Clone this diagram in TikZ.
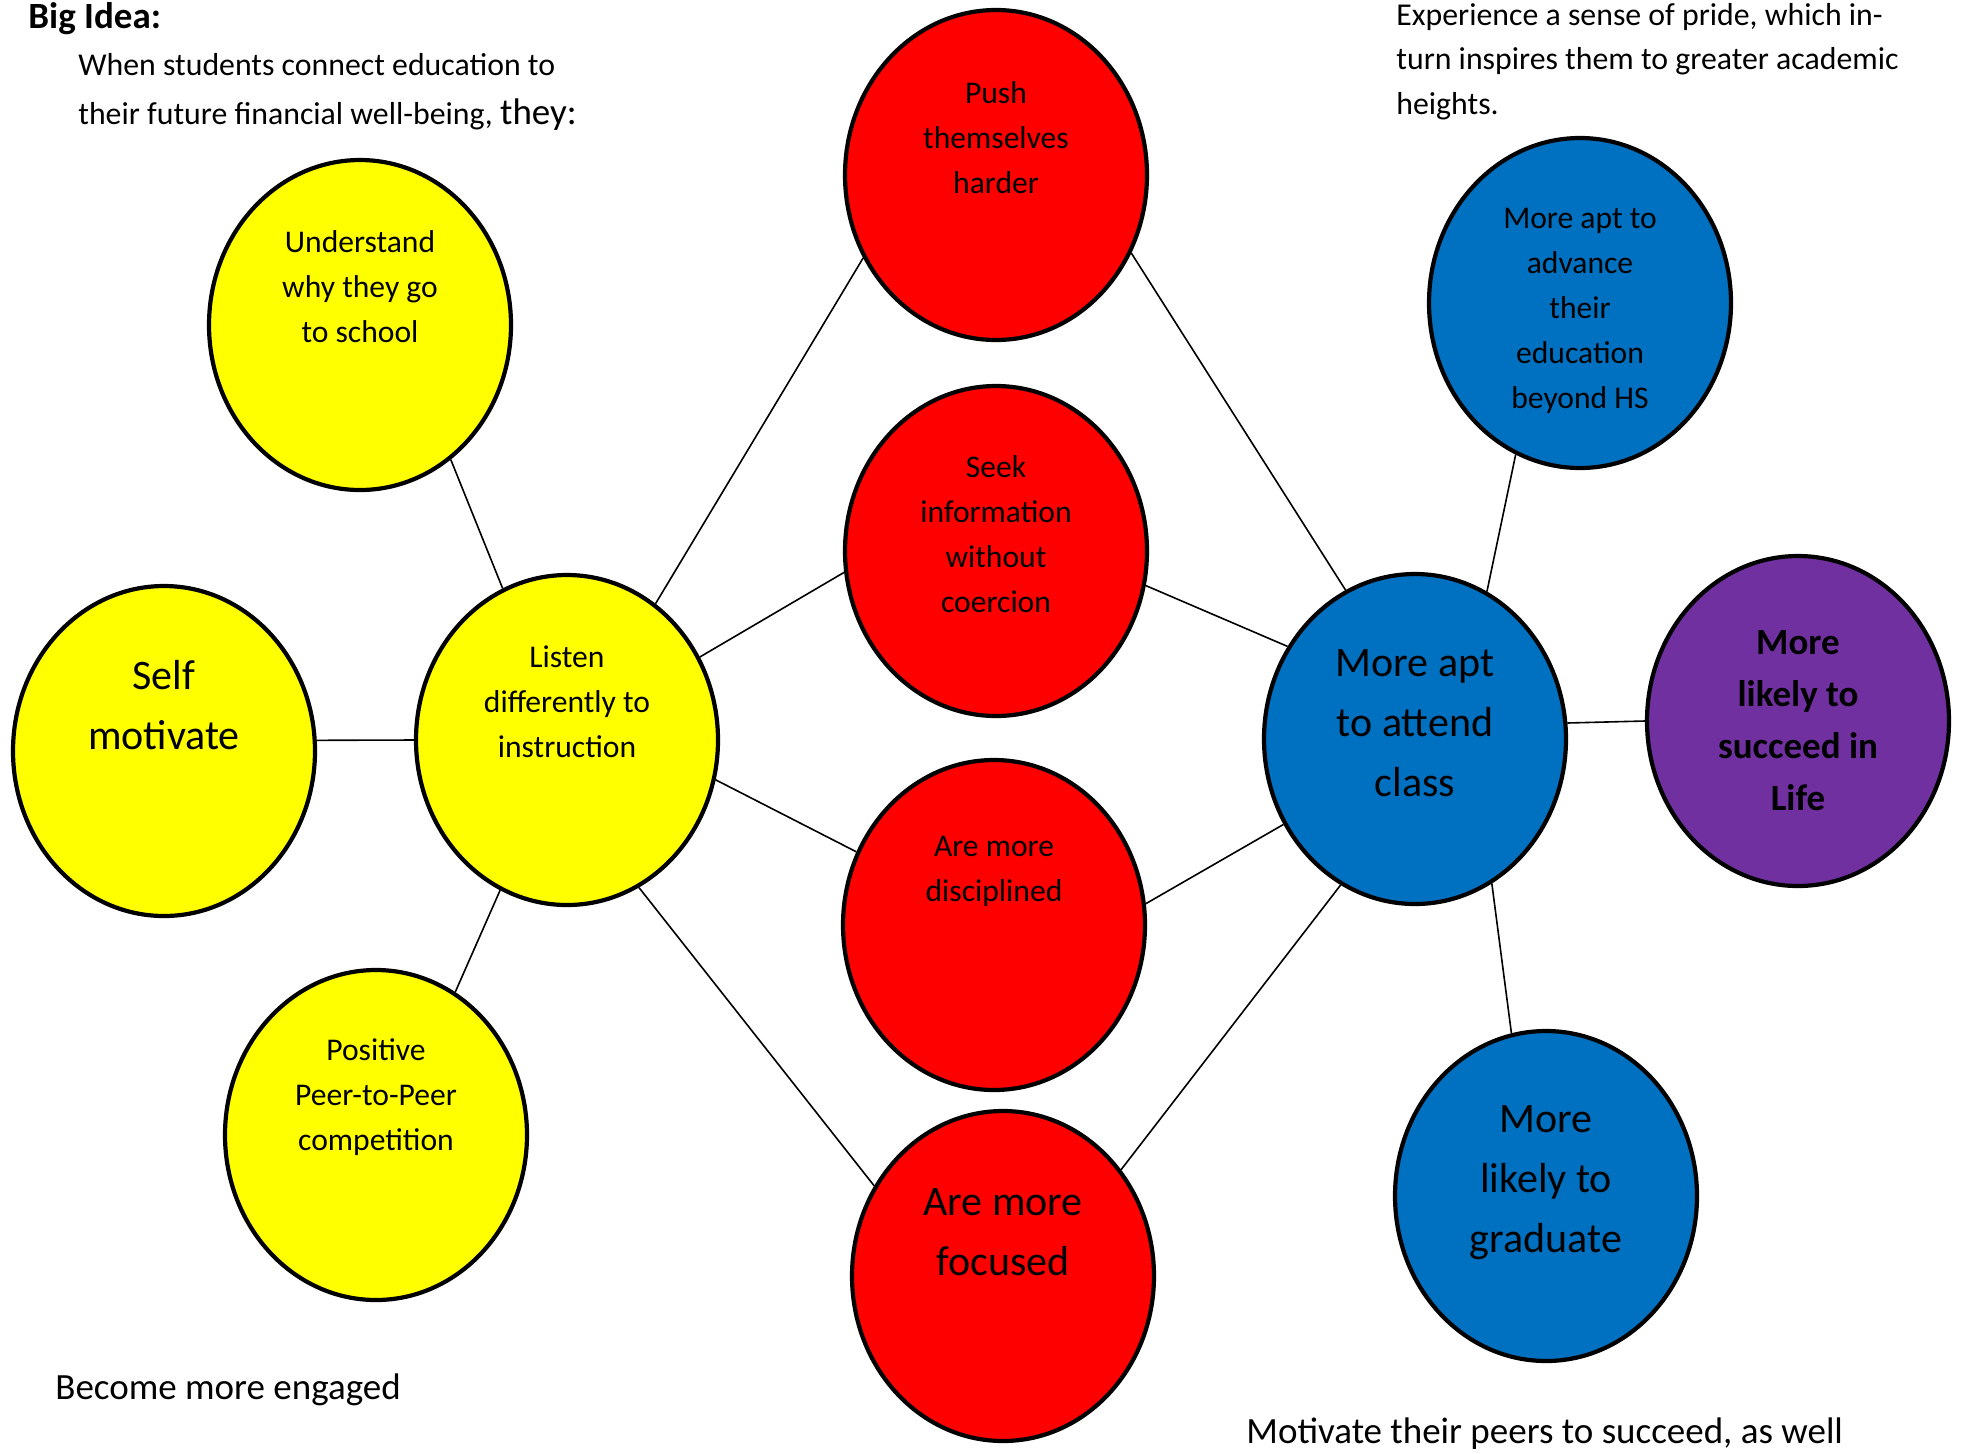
\documentclass[tikz,border=0pt]{standalone}
\usepackage{fontspec}
\setmainfont{Carlito}
\usetikzlibrary{shapes.geometric}
\definecolor{wordyellow}{RGB}{255,255,0}
\definecolor{wordred}{RGB}{255,0,0}
\definecolor{wordblue}{HTML}{0070C0}
\definecolor{wordpurple}{HTML}{7030A0}

\begin{document}
\begin{tikzpicture}[x=0.5pt, y=-0.5pt,
  bubble/.style={ellipse, draw=black, line width=2.1pt, fill=#1,
    minimum width=151pt, minimum height=165pt, inner sep=0pt},
  link/.style={line width=0.8pt},
  small/.style={font=\fontsize{15.8}{22.5}\selectfont, align=center},
  big/.style={font=\fontsize{21}{30}\selectfont, align=center},
  note/.style={font=\fontsize{15.9}{24.4}\selectfont, align=left, anchor=west, inner sep=0pt}]
  \useasboundingbox (0,0) rectangle (1965,1453);
  % yellow bubbles
  \node[bubble=wordyellow, label={[small, yshift=19pt]center:Understand\\why they go\\to school}] (understand) at (360,325) {};
  \node[bubble=wordyellow, label={[big, yshift=23pt]center:Self\\motivate}] (self) at (164,751) {};
  \node[bubble=wordyellow, label={[small, yshift=19pt]center:Listen\\differently to\\instruction}] (listen) at (567,740) {};
  \node[bubble=wordyellow, label={[small, yshift=19pt]center:Positive\\Peer-to-Peer\\competition}] (positive) at (376,1135) {};
  % red bubbles
  \node[bubble=wordred, label={[small, yshift=18.5pt]center:Push\\themselves\\harder}] (push) at (996,175) {};
  \node[bubble=wordred, label={[small, yshift=8.5pt]center:Seek\\information\\without\\coercion}] (seek) at (996,551) {};
  \node[bubble=wordred, label={[small, yshift=27pt]center:Are more\\disciplined}] (disciplined) at (994,925) {};
  \node[bubble=wordred, label={[big, yshift=22pt]center:Are more\\focused}] (focused) at (1003,1276) {};
  % blue and purple bubbles
  \node[bubble=wordblue, label={[big, yshift=8pt]center:More apt\\to attend\\class}] (attend) at (1415,739) {};
  \node[bubble=wordblue, label={[small, yshift=-4pt]center:More apt to\\advance\\their\\education\\beyond HS}] (advance) at (1580,303) {};
  \node[bubble=wordpurple, label={[font=\fontsize{18.5}{26}\selectfont\bfseries, align=center, yshift=0pt]center:More\\likely to\\succeed in\\Life}] (succeed) at (1798,721) {};
  \node[bubble=wordblue, label={[big, yshift=6.5pt]center:More\\likely to\\graduate}] (graduate) at (1546,1196) {};
  % connectors
  \foreach \a/\b in {understand.-56/listen.113, self.4/listen.180, positive.61/listen.-114,
    listen.57/push.-148, listen.32/seek.-172, listen.-15/disciplined.152, listen.-64/focused.145,
    push.-30/attend.115, seek.-13/attend.144, disciplined.8/attend.-147, focused.42/attend.-117,
    attend.64/advance.-113, attend.6/succeed.180, attend.-62/graduate.102}
    \draw[link] (\a) -- (\b);
  % free text
  \node[font=\fontsize{18.5}{22}\selectfont\bfseries, anchor=west, inner sep=0pt] (bigidea) at (28,18.5) {Big Idea:};
  \node[note] (intro) at (78,92) {When students connect education to\\their future financial well-being, {\fontsize{18.5}{24.4}\selectfont they:}};
  \node[note, font=\fontsize{15.9}{22.2}\selectfont] (pride) at (1396,61.5) {Experience a sense of pride, which in-\\turn inspires them to greater academic\\heights.};
  \node[note, font=\fontsize{18.5}{22}\selectfont] (engaged) at (55,1390) {Become more engaged};
  \node[note, font=\fontsize{18.5}{22}\selectfont] (peers) at (1246,1434) {Motivate their peers to succeed, as well};
\end{tikzpicture}
\end{document}
